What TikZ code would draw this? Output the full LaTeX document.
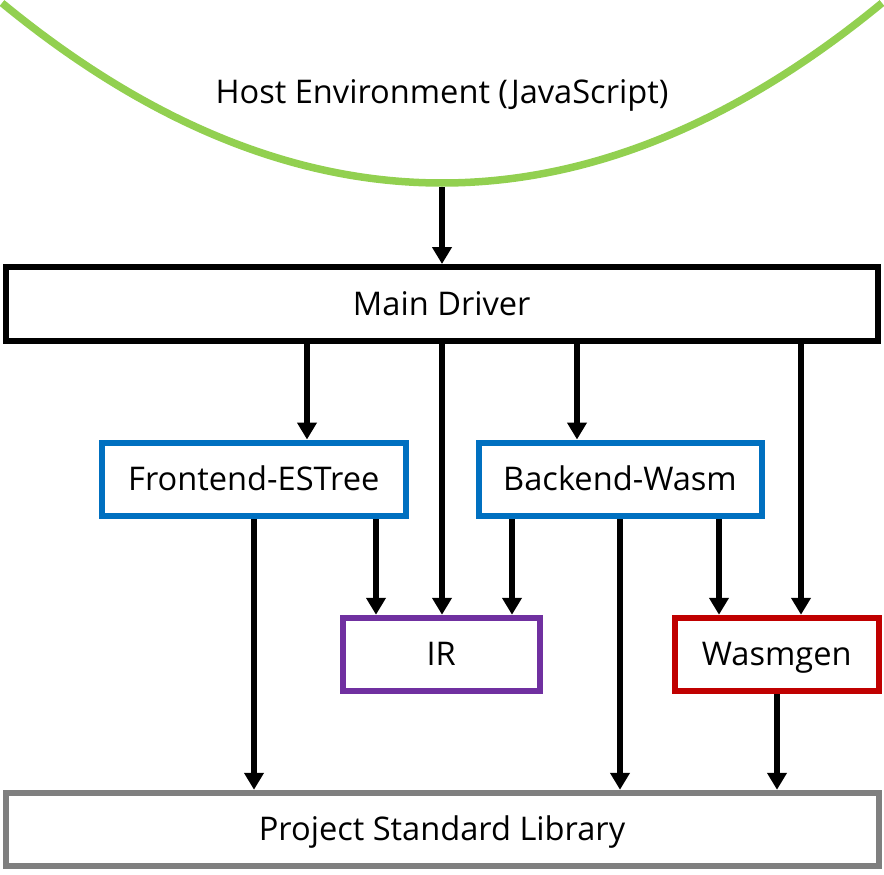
\documentclass[tikz,border=0pt]{standalone}
\usepackage{fontspec}
\setmainfont{Open Sans}
\usetikzlibrary{arrows.meta}
\definecolor{hostgreen}{HTML}{92D050}
\definecolor{feblue}{HTML}{0070C0}
\definecolor{irpurple}{HTML}{7030A0}
\definecolor{wgred}{HTML}{C00000}
\definecolor{libgray}{HTML}{7F7F7F}
\begin{document}
\begin{tikzpicture}[x=1pt,y=-1pt,
  lbl/.style={font=\fontsize{32.6}{38}\selectfont},
  blk/.style={draw, line width=6pt, fill=white, lbl, text height=22.5pt, text depth=0pt, inner sep=0pt},
  arr/.style={line width=5.5pt, -{Triangle[width=19pt,length=17pt]}},
]
\useasboundingbox (0,0) rectangle (884,875);
% host environment curve
\draw[hostgreen, line width=7.5pt] (2,3) .. controls (293.7,243) and (590.3,243) .. (882,3);
\node[lbl, anchor=base] (host) at (442,103) {Host Environment (JavaScript)};
\coordinate (hostb) at (442,187);
% blocks
\node[blk, minimum width=872.5pt, minimum height=73.5pt] (main) at (441.75,303.75) {Main Driver};
\node[blk, draw=feblue, minimum width=303.5pt, minimum height=73.5pt] (fe) at (253.75,479.25) {Frontend-ESTree};
\node[blk, draw=feblue, minimum width=283pt, minimum height=73.5pt] (be) at (620,479.25) {Backend-Wasm};
\node[blk, draw=irpurple, minimum width=196.5pt, minimum height=73.5pt] (ir) at (441.25,654.5) {IR};
\node[blk, draw=wgred, minimum width=203.5pt, minimum height=73.5pt] (wg) at (776.75,654.5) {Wasmgen};
\node[blk, draw=libgray, minimum width=873pt, minimum height=73.5pt] (psl) at (442,829.5) {Project Standard Library};
% connectors
\draw[arr] (hostb) -- (442,0 |- main.north);
\draw[arr] (307,0 |- main.south) -- (307,0 |- fe.north);
\draw[arr] (442,0 |- main.south) -- (442,0 |- ir.north);
\draw[arr] (577,0 |- main.south) -- (577,0 |- be.north);
\draw[arr] (801,0 |- main.south) -- (801,0 |- wg.north);
\draw[arr] (254,0 |- fe.south) -- (254,0 |- psl.north);
\draw[arr] (376,0 |- fe.south) -- (376,0 |- ir.north);
\draw[arr] (512,0 |- be.south) -- (512,0 |- ir.north);
\draw[arr] (620,0 |- be.south) -- (620,0 |- psl.north);
\draw[arr] (719,0 |- be.south) -- (719,0 |- wg.north);
\draw[arr] (777,0 |- wg.south) -- (777,0 |- psl.north);
\end{tikzpicture}
\end{document}
